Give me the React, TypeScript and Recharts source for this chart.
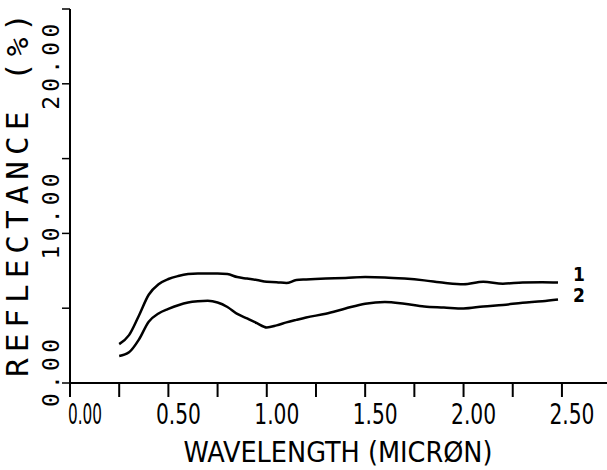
import React from "react";
import { LineChart, Line, XAxis, YAxis } from "recharts";

// wavelength samples (micron) shared by both spectra
const WAVELENGTH = [
  0.25, 0.3, 0.35, 0.4, 0.45, 0.5, 0.55, 0.6, 0.65, 0.7, 0.75, 0.8, 0.85, 0.9,
  0.95, 1.0, 1.05, 1.1, 1.15, 1.2, 1.3, 1.4, 1.5, 1.6, 1.7, 1.8, 1.9, 2.0, 2.1,
  2.2, 2.3, 2.4, 2.48,
];

// reflectance (%) of curve 1
const CURVE_1 = [
  2.6, 3.2, 4.5, 5.9, 6.6, 6.95, 7.15, 7.28, 7.32, 7.32, 7.32, 7.28, 7.08, 6.98,
  6.88, 6.76, 6.74, 6.68, 6.88, 6.92, 6.98, 7.02, 7.08, 7.06, 6.98, 6.86, 6.7,
  6.6, 6.76, 6.64, 6.72, 6.74, 6.72,
];

// reflectance (%) of curve 2
const CURVE_2 = [
  1.8, 2.05, 2.9, 4.1, 4.65, 4.95, 5.2, 5.38, 5.46, 5.49, 5.38, 5.08, 4.62, 4.32,
  4.0, 3.71, 3.85, 4.05, 4.22, 4.38, 4.63, 4.98, 5.3, 5.42, 5.3, 5.12, 5.05,
  4.98, 5.12, 5.22, 5.36, 5.46, 5.58,
];

const X_TICKS = [0, 0.25, 0.5, 0.75, 1.0, 1.25, 1.5, 1.75, 2.0, 2.25, 2.5];
const Y_TICKS = [0, 5, 10, 15, 20, 25];
const Y_LABELED = [0, 10, 20];

const data = WAVELENGTH.map((w, i) => ({ w, c1: CURVE_1[i], c2: CURVE_2[i] }));

const NARROW = "'Liberation Sans Narrow', 'DejaVu Sans Condensed', sans-serif";
const MONO = "'DejaVu Sans Mono', 'Liberation Mono', monospace";

const XTick = ({ x, y, payload }: any) => {
  const v = payload.value;
  if (Math.abs(v / 0.5 - Math.round(v / 0.5)) > 1e-6) return null;
  return (
    <text
      x={x + (v === 0 ? 15 : 10)}
      y={y + 25}
      textAnchor="middle"
      fontFamily={NARROW}
      fontSize={28}
      textLength={v === 0 ? 34 : 45}
      lengthAdjust="spacingAndGlyphs"
      fill="#000"
    >
      {v.toFixed(2)}
    </text>
  );
};

const YTick = ({ x, y, payload }: any) => {
  const v = payload.value;
  if (!Y_LABELED.includes(v)) return null;
  const bx = x - 1;
  const by = y + (v === 0 ? 24 : 26);
  return (
    <text
      x={bx}
      y={by}
      transform={`rotate(-90, ${bx}, ${by})`}
      fontFamily={MONO}
      fontSize={23}
      letterSpacing={4.2}
      fill="#000"
    >
      {v.toFixed(2)}
    </text>
  );
};

// curve number written just past the last point
const endLabel = (name: string, dy: number) => (props: any) => {
  const { x, y, index } = props;
  if (index !== WAVELENGTH.length - 1) return null;
  return (
    <text
      key={name}
      x={x + 21}
      y={y + dy}
      textAnchor="middle"
      fontFamily={NARROW}
      fontWeight="bold"
      fontSize={19}
      fill="#000"
    >
      {name}
    </text>
  );
};

export default function App() {
  return (
    <div style={{ position: "absolute", left: 0, top: 0, width: 607, height: 470, background: "#fff" }}>
      <LineChart width={607} height={470} data={data} margin={{ top: 9, right: 0, bottom: 0, left: 0 }}>
        <XAxis
          dataKey="w"
          type="number"
          domain={[0, 2.729]}
          ticks={X_TICKS}
          allowDataOverflow
          height={87}
          tickSize={14}
          axisLine={{ stroke: "#000", strokeWidth: 2 }}
          tickLine={{ stroke: "#000", strokeWidth: 2 }}
          tick={<XTick />}
          interval={0}
        />
        <YAxis
          type="number"
          domain={[0, 25]}
          ticks={Y_TICKS}
          width={70}
          tickSize={8}
          axisLine={{ stroke: "#000", strokeWidth: 2 }}
          tickLine={{ stroke: "#000", strokeWidth: 1.5 }}
          tick={<YTick />}
          interval={0}
        />
        <Line
          type="monotone"
          dataKey="c1"
          stroke="#000"
          strokeWidth={2.5}
          dot={false}
          isAnimationActive={false}
          label={endLabel("1", -1)}
        />
        <Line
          type="monotone"
          dataKey="c2"
          stroke="#000"
          strokeWidth={2.5}
          dot={false}
          isAnimationActive={false}
          label={endLabel("2", 2)}
        />
        <text
          x={338}
          y={462}
          textAnchor="middle"
          fontFamily={NARROW}
          fontSize={29}
          textLength={309}
          lengthAdjust="spacingAndGlyphs"
          fill="#000"
        >
          WAVELENGTH (MICRØN)
        </text>
        <text
          x={28}
          y={195}
          textAnchor="middle"
          transform="rotate(-90, 28, 195)"
          fontFamily={MONO}
          fontSize={31}
          textLength={364}
          lengthAdjust="spacing"
          fill="#000"
        >
          REFLECTANCE (%)
        </text>
      </LineChart>
    </div>
  );
}
